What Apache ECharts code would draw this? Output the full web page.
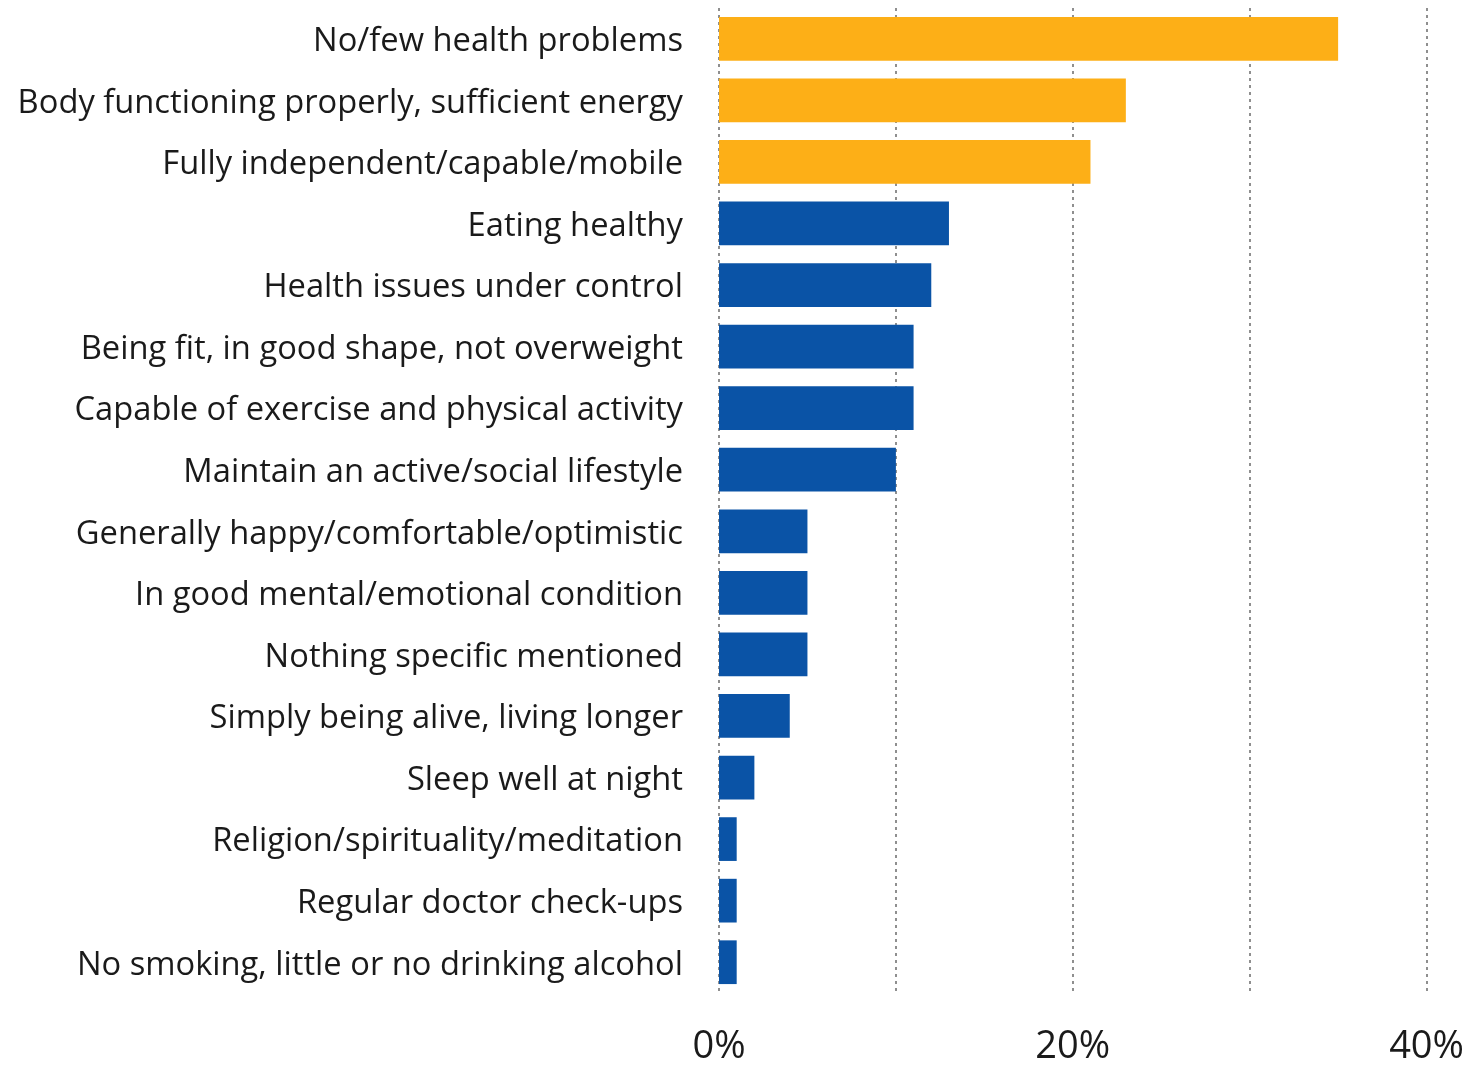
<!DOCTYPE html>
<html>
<head>
<meta charset="utf-8">
<script src="https://cdn.jsdelivr.net/npm/echarts@6/dist/echarts.min.js"></script>
<style>
  html, body { margin: 0; padding: 0; background: #fff; }
  #chart { width: 1467px; height: 1066px; }
</style>
</head>
<body>
<div id="chart"></div>
<script>
// Aspects of staying healthy, share of respondents mentioning each (%)
const categories = [
  'No/few health problems',
  'Body functioning properly, sufficient energy',
  'Fully independent/capable/mobile',
  'Eating healthy',
  'Health issues under control',
  'Being fit, in good shape, not overweight',
  'Capable of exercise and physical activity',
  'Maintain an active/social lifestyle',
  'Generally happy/comfortable/optimistic',
  'In good mental/emotional condition',
  'Nothing specific mentioned',
  'Simply being alive, living longer',
  'Sleep well at night',
  'Religion/spirituality/meditation',
  'Regular doctor check-ups',
  'No smoking, little or no drinking alcohol'
];
const values = [35, 23, 21, 13, 12, 11, 11, 10, 5, 5, 5, 4, 2, 1, 1, 1];
// The first three answers are highlighted
const highlightCount = 3;
const xTickLabels = { 0: '0%', 20: '20%', 40: '40%' };

const ORANGE = '#FDAF17';
const BLUE = '#0A53A6';

const chart = echarts.init(document.getElementById('chart'), null, { renderer: 'canvas' });
chart.setOption({
  animation: false,
  backgroundColor: '#ffffff',
  grid: { left: 719, right: 36, top: 8, bottom: 72, containLabel: false },
  xAxis: {
    type: 'value',
    min: 0,
    max: 40,
    interval: 10,
    axisLine: { show: false },
    axisTick: { show: false },
    splitLine: { show: true, lineStyle: { color: '#8f8f8f', width: 2, type: [3, 4] } },
    axisLabel: {
      margin: 35,
      fontFamily: 'Open Sans',
      fontSize: 38,
      color: '#1a1a1a',
      formatter: v => xTickLabels[v] || ''
    }
  },
  yAxis: {
    type: 'category',
    inverse: true,
    data: categories,
    axisLine: { show: false },
    axisTick: { show: false },
    axisLabel: {
      margin: 36,
      color: '#1a1a1a',
      formatter: v => '{t|' + v + '}',
      rich: {
        t: {
          fontFamily: 'Open Sans',
          fontSize: 32.7,
          color: '#1a1a1a',
          padding: [6, 0, 0, 0]
        }
      }
    }
  },
  series: [{
    type: 'bar',
    data: values.map((v, i) => ({
      value: v,
      itemStyle: { color: i < highlightCount ? ORANGE : BLUE }
    })),
    barCategoryGap: '29%'
  }]
});
</script>
</body>
</html>
